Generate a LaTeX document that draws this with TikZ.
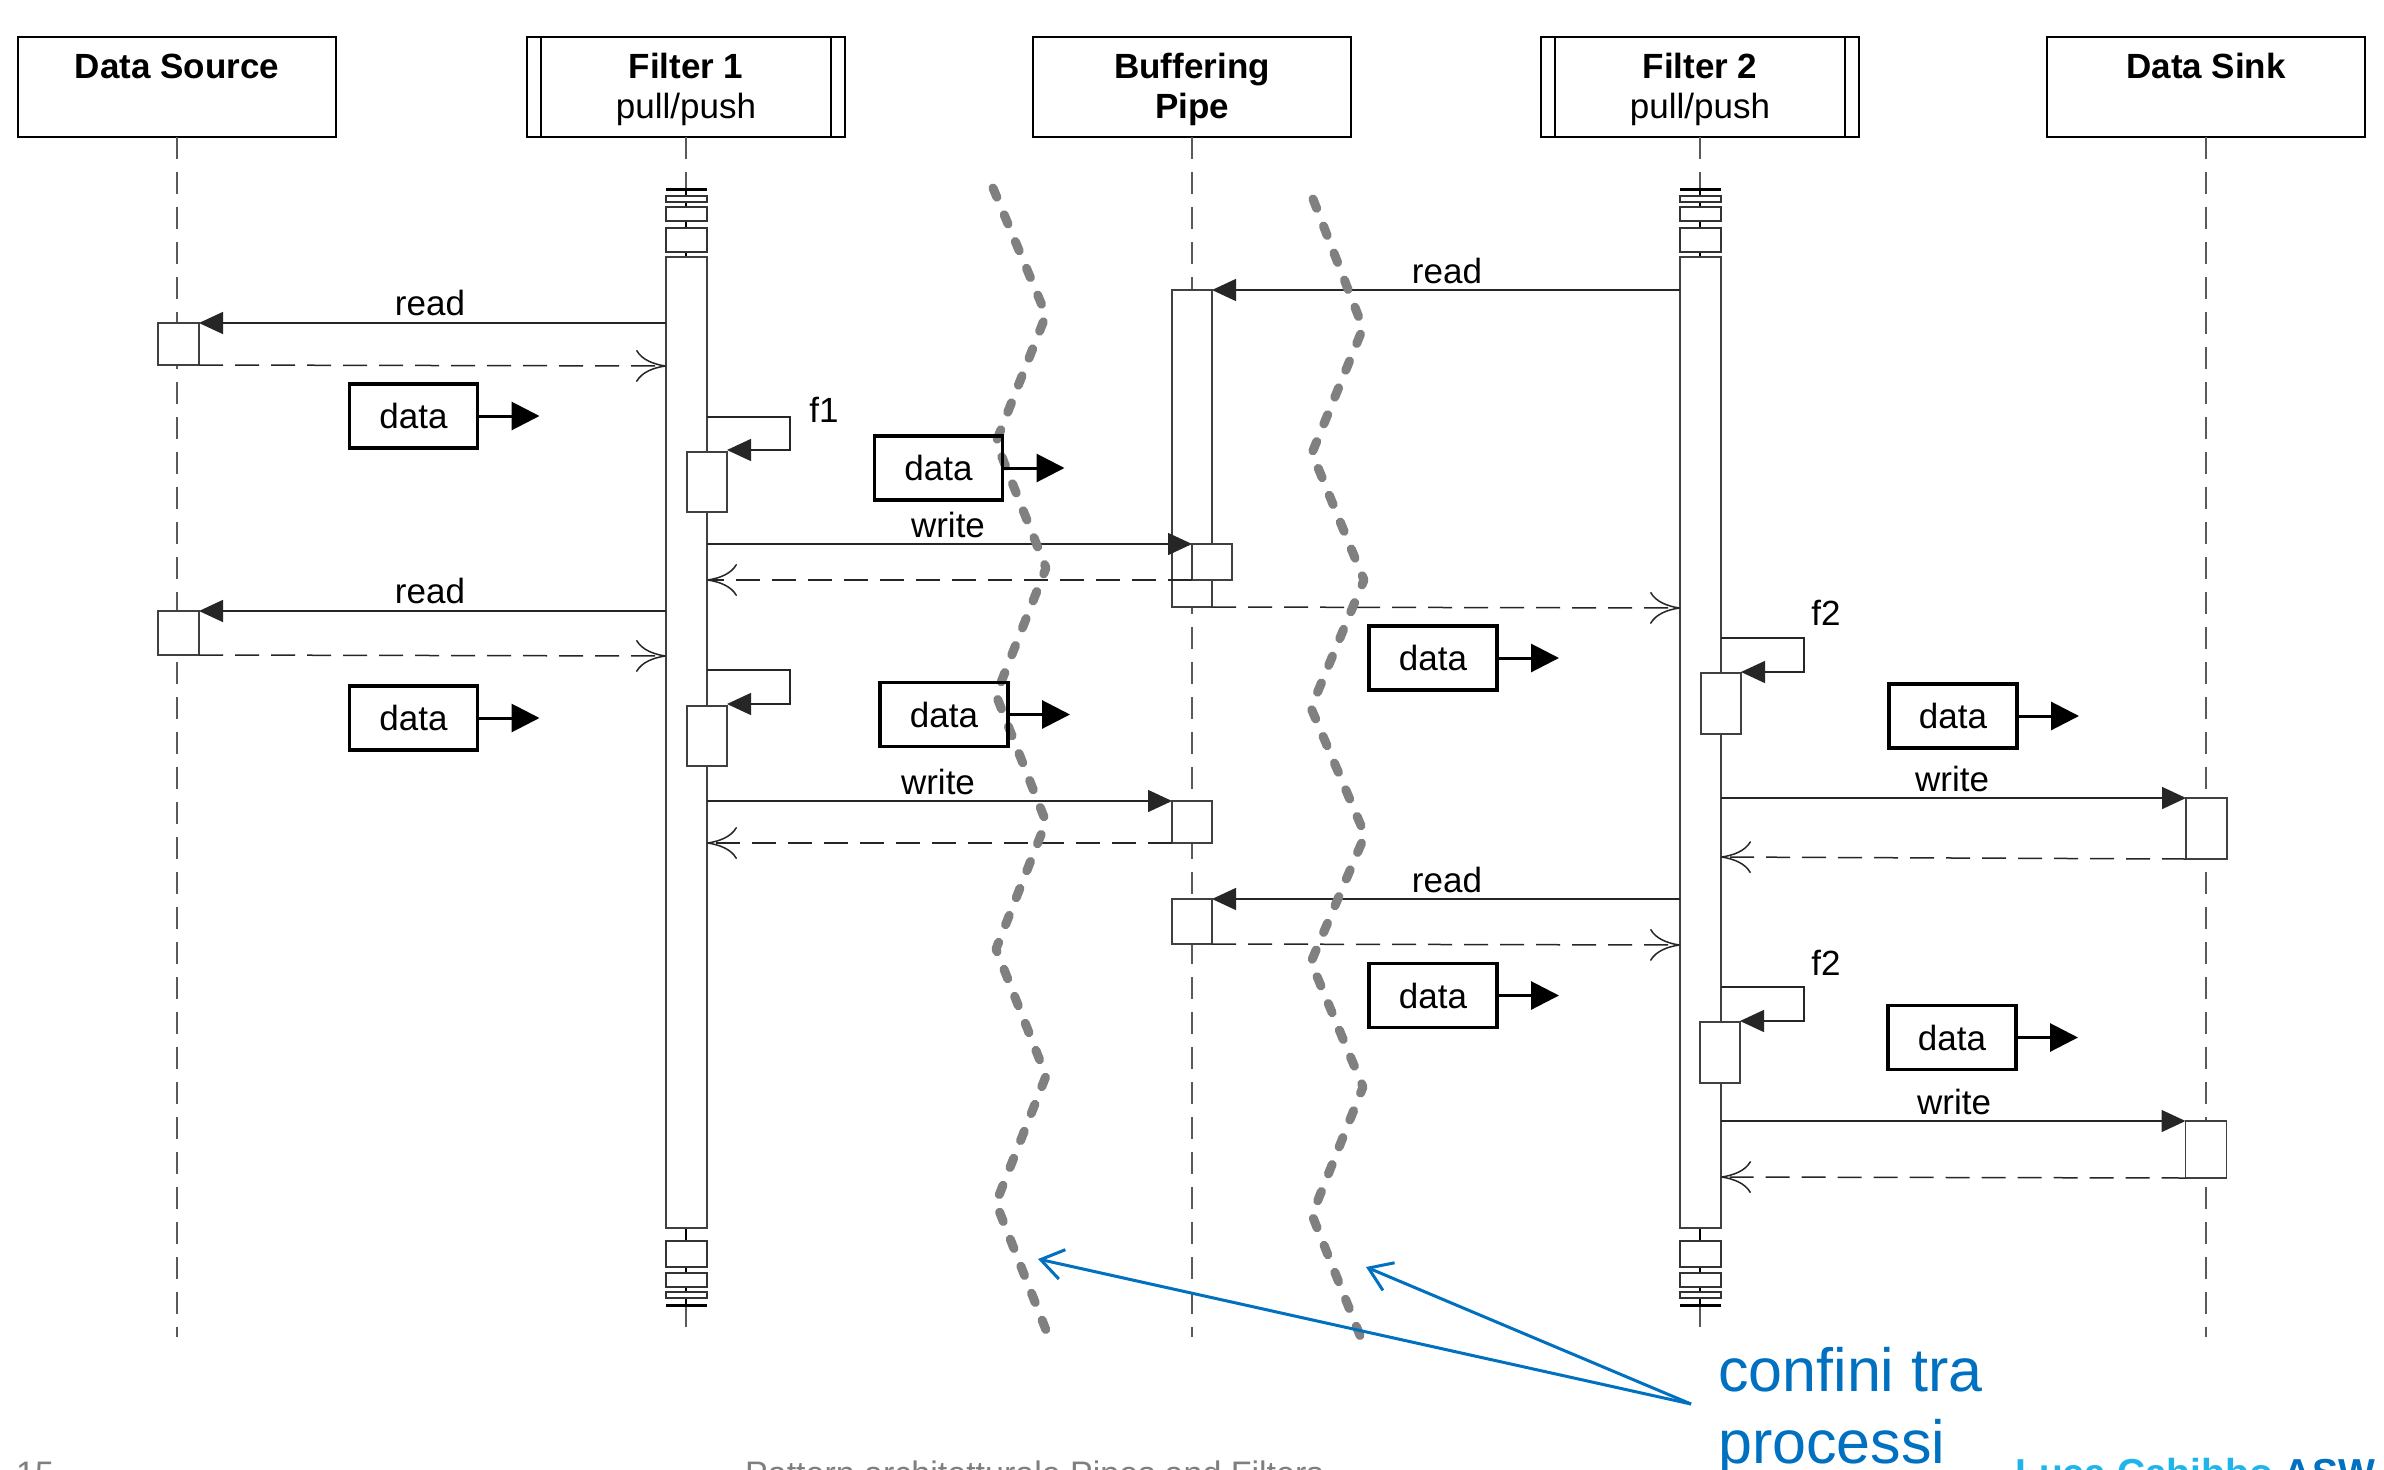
\documentclass[tikz,border=0pt]{standalone}
\usepackage{fontspec}
\setmainfont{Liberation Sans}
\usetikzlibrary{arrows.meta}
\definecolor{wavegray}{HTML}{808080}
\definecolor{boundblue}{HTML}{0070C0}
\definecolor{lightblue}{HTML}{1FB5EA}
\definecolor{footgray}{HTML}{7F7F7F}
\definecolor{linec}{HTML}{262626}
\begin{document}
\begin{tikzpicture}[x=1pt,y=-1pt,
  txt/.style={font=\fontsize{35}{42}\selectfont, inner sep=0pt, outer sep=0pt},
  bold/.style={font=\fontsize{35}{42}\selectfont\bfseries, inner sep=0pt, outer sep=0pt},
  headbox/.style={draw=black, line width=1.5pt, minimum width=318pt, minimum height=100pt, inner sep=0pt, outer sep=0pt},
  life/.style={draw=black!65, line width=1.5pt, dash pattern=on 22pt off 13pt},
  actbox/.style={draw=black!75, fill=white, line width=1.5pt, minimum width=41pt, inner sep=0pt, outer sep=0pt},
  stackbox/.style={draw=black!80, fill=white, line width=1.5pt},
  msg/.style={draw=linec, line width=1.5pt, -{Triangle[length=24pt,width=22pt]}},
  ret/.style={draw=linec, line width=1.5pt, dash pattern=on 24pt off 12pt, -{Computer Modern Rightarrow[length=30pt,width=32pt]}},
  databox/.style={draw=black, line width=3.5pt, minimum width=128pt, minimum height=64pt, inner sep=0pt, outer sep=0pt, font=\fontsize{35}{42}\selectfont},
  dataarrow/.style={draw=black, line width=3pt, -{Triangle[length=28pt,width=28pt]}},
  wave/.style={draw=wavegray, line width=9pt, line cap=round, line join=round, dash pattern=on 10pt off 19pt},
  bluearrow/.style={draw=boundblue, line width=3pt, -{Straight Barb[length=22pt,width=30pt]}},
  filterbar/.style={draw=black, line width=2.5pt}
]
\useasboundingbox (0,0) rectangle (2384,1469);
\fill[white] (0,0) rectangle (2384,1469);

% ---------- headers ----------
\node[headbox] (hds) at (177,87) {};
\node[headbox] (hf1) at (686,87) {};
\node[headbox] (hbp) at (1192,87) {};
\node[headbox] (hf2) at (1700,87) {};
\node[headbox] (hsk) at (2206,87) {};
\draw[filterbar] (hf1.north west) rectangle ([xshift=14pt]hf1.south west);
\draw[filterbar] ([xshift=-14pt]hf1.north east) rectangle (hf1.south east);
\draw[filterbar] (hf2.north west) rectangle ([xshift=14pt]hf2.south west);
\draw[filterbar] ([xshift=-14pt]hf2.north east) rectangle (hf2.south east);

\node[bold, anchor=base] (tds) at (177,79) {Data Source};
\node[bold, anchor=base] (tf1) at (686,79) {Filter 1};
\node[txt, anchor=base] (tf1b) at (686,119) {pull/push};
\node[bold, anchor=base] (tbp) at (1192,79) {Buffering};
\node[bold, anchor=base] (tbp2) at (1192,119) {Pipe};
\node[bold, anchor=base] (tf2) at (1700,79) {Filter 2};
\node[txt, anchor=base] (tf2b) at (1700,119) {pull/push};
\node[bold, anchor=base] (tsk) at (2206,79) {Data Sink};

% ---------- lifelines ----------
\draw[life] (hds.south) -- (177,1337);
\draw[life] (hbp.south) -- (1192,1337);
\draw[life] (hsk.south) -- (2206,1337);
\draw[life] (hf1.south) -- (686,189);
\draw[line width=1.2pt] (686,189) -- (686,257);
\draw[line width=1.2pt] (686,1228) -- (686,1305);
\draw[life] (686,1305) -- (686,1337);
\draw[life] (hf2.south) -- (1700,189);
\draw[line width=1.2pt] (1700,189) -- (1700,257);
\draw[line width=1.2pt] (1700,1228) -- (1700,1305);
\draw[life] (1700,1305) -- (1700,1337);

% stack symbols
\foreach \cx in {666,1680}{
  \draw[line width=3pt] (\cx,189) -- (\cx+41,189);
  \draw[stackbox] (\cx,196) rectangle (\cx+41,202);
  \draw[stackbox] (\cx,207) rectangle (\cx+41,221);
  \draw[stackbox] (\cx,228) rectangle (\cx+41,252);
  \draw[stackbox] (\cx,1241) rectangle (\cx+41,1267);
  \draw[stackbox] (\cx,1273) rectangle (\cx+41,1287);
  \draw[stackbox] (\cx,1292) rectangle (\cx+41,1298);
  \draw[line width=3pt] (\cx,1305) -- (\cx+41,1305);
}

% ---------- activations ----------
\node[actbox, minimum height=971pt] (f1bar) at (686.5,742.5) {};
\node[actbox, minimum height=971pt] (f2bar) at (1700.5,742.5) {};
\node[actbox, minimum height=42pt] (ds1) at (178.5,344) {};
\node[actbox, minimum height=44pt] (ds2) at (178.5,633) {};
\node[actbox, minimum width=40pt, minimum height=60pt] (f1s1) at (707,482) {};
\node[actbox, minimum width=40pt, minimum height=60pt] (f1s2) at (707,736) {};
\node[actbox, minimum width=40pt, minimum height=317pt] (bp1) at (1192,448.5) {};
\node[actbox, minimum width=40pt, minimum height=36pt] (bp1n) at (1212,562) {};
\node[actbox, minimum width=40pt, minimum height=42pt] (bp2) at (1192,822) {};
\node[actbox, minimum width=40pt, minimum height=45pt] (bp3) at (1192,921.5) {};
\node[actbox, minimum width=40pt, minimum height=61pt] (f2s1) at (1721,703.5) {};
\node[actbox, minimum width=40pt, minimum height=61pt] (f2s2) at (1720,1052.5) {};
\node[actbox, minimum height=61pt] (sk1) at (2206.5,828.5) {};
\node[actbox, minimum height=57pt] (sk2) at (2206,1149.5) {};

% ---------- messages ----------
% Filter 1 <-> Data Source
\draw[msg] (f1bar.west |- 0,323) -- (ds1.north east);
\node[txt, anchor=base] (lr1) at (430,315) {read};
\draw[ret] (ds1.south east) -- (f1bar.west |- 0,366);
\draw[msg] (f1bar.west |- 0,611) -- (ds2.north east);
\node[txt, anchor=base] (lr2) at (430,603) {read};
\draw[ret] (ds2.south east) -- (f1bar.west |- 0,656);

% Filter 1 self calls
\draw[msg] (f1bar.east |- 0,417) -- (790,417) -- (790,450) -- (f1s1.north east |- 0,450);
\node[txt, anchor=base] (lf1) at (824,422) {f1};
\draw[msg] (f1bar.east |- 0,670) -- (790,670) -- (790,704) -- (f1s2.north east |- 0,704);

% Filter 1 -> Pipe
\draw[msg] (f1bar.east |- 0,544) -- (bp1n.north west);
\node[txt, anchor=base] (lw1) at (948,537) {write};
\draw[ret] (bp1n.south west) -- (f1bar.east |- 0,580);
\draw[msg] (f1bar.east |- 0,801) -- (bp2.north west);
\node[txt, anchor=base] (lw2) at (938,794) {write};
\draw[ret] (bp2.south west) -- (f1bar.east |- 0,843);

% Filter 2 -> Pipe
\draw[msg] (f2bar.west |- 0,290) -- (bp1.north east);
\node[txt, anchor=base] (lr3) at (1447,283) {read};
\draw[ret] (bp1.south east) -- (f2bar.west |- 0,608);
\draw[msg] (f2bar.west |- 0,899) -- (bp3.north east);
\node[txt, anchor=base] (lr4) at (1447,892) {read};
\draw[ret] (bp3.south east) -- (f2bar.west |- 0,945);

% Filter 2 self calls
\draw[msg] (f2bar.east |- 0,638) -- (1804,638) -- (1804,672) -- (f2s1.north east |- 0,672);
\node[txt, anchor=base] (lf2a) at (1826,625) {f2};
\draw[msg] (f2bar.east |- 0,987) -- (1804,987) -- (1804,1021) -- (f2s2.north east |- 0,1021);
\node[txt, anchor=base] (lf2b) at (1826,975) {f2};

% Filter 2 -> Data Sink
\draw[msg] (f2bar.east |- 0,798) -- (sk1.north west);
\node[txt, anchor=base] (lw3) at (1952,791) {write};
\draw[ret] (sk1.south west) -- (f2bar.east |- 0,857);
\draw[msg] (f2bar.east |- 0,1121) -- (sk2.north west);
\node[txt, anchor=base] (lw4) at (1954,1114) {write};
\draw[ret] (sk2.south west) -- (f2bar.east |- 0,1177);

% ---------- process boundaries ----------
\draw[wave] (993,188) -- (1046,315) -- (996,442) -- (1046,568) -- (996,695) -- (1046,822) -- (996,949) -- (1046,1076) -- (996,1203) -- (1046,1330);
\draw[wave] (1313,199) -- (1363,328) -- (1312,453) -- (1364,580) -- (1311,708) -- (1365,835) -- (1311,962) -- (1363,1087) -- (1312,1215) -- (1361,1338);

% ---------- data tokens ----------
\node[databox] (d1) at (413.5,416) {data};
\draw[dataarrow] (d1.east) -- ([xshift=62pt]d1.east);
\node[databox] (d2) at (413.5,718) {data};
\draw[dataarrow] (d2.east) -- ([xshift=62pt]d2.east);
\node[databox] (d3) at (938.5,468) {data};
\draw[dataarrow] (d3.east) -- ([xshift=62pt]d3.east);
\node[databox] (d4) at (944,714.5) {data};
\draw[dataarrow] (d4.east) -- ([xshift=62pt]d4.east);
\node[databox] (d5) at (1433,658) {data};
\draw[dataarrow] (d5.east) -- ([xshift=62pt]d5.east);
\node[databox] (d6) at (1433,995.5) {data};
\draw[dataarrow] (d6.east) -- ([xshift=62pt]d6.east);
\node[databox] (d7) at (1953,716) {data};
\draw[dataarrow] (d7.east) -- ([xshift=62pt]d7.east);
\node[databox] (d8) at (1952,1037.5) {data};
\draw[dataarrow] (d8.east) -- ([xshift=62pt]d8.east);

% ---------- annotation ----------
\coordinate (bstart) at (1691,1404);
\coordinate (tipL) at (1038,1259);
\coordinate (tipR) at (1366,1267);
\draw[bluearrow] (bstart) -- (tipL);
\draw[bluearrow] (bstart) -- (tipR);
\node[anchor=base west, inner sep=0pt, text=boundblue, font=\fontsize{61}{72}\selectfont] (conf1) at (1718,1391) {confini tra};
\node[anchor=base west, inner sep=0pt, text=boundblue, font=\fontsize{61}{72}\selectfont] (conf2) at (1718,1463) {processi};

% ---------- footer (cut by page edge) ----------
\node[anchor=base west, inner sep=0pt, text=footgray, font=\fontsize{34}{40}\selectfont] (pg) at (16,1485) {15};
\node[anchor=base west, inner sep=0pt, text=footgray, font=\fontsize{34}{40}\selectfont] (ft) at (745,1485) {Pattern architetturale Pipes and Filters};
\node[anchor=base west, inner sep=0pt, font=\fontsize{39}{46}\selectfont\bfseries] (auth) at (2015,1486) {\textcolor{lightblue}{Luca Cabibbo} \textcolor{boundblue}{ASW}};
\end{tikzpicture}
\end{document}
